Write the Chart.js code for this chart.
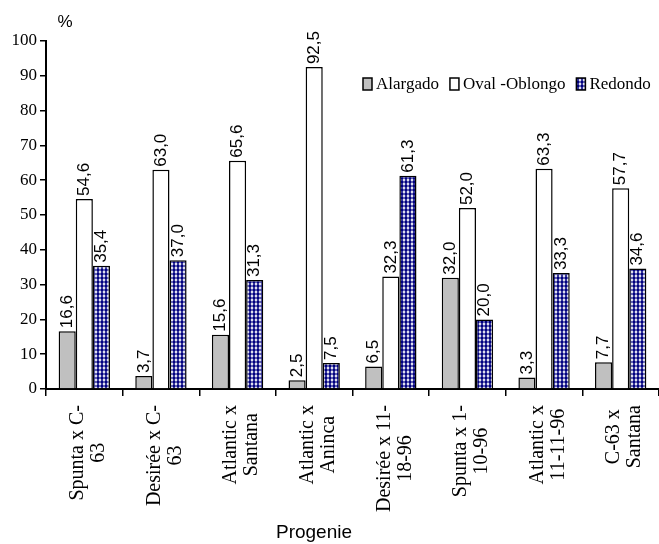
<!DOCTYPE html>
<html>
<head>
<meta charset="utf-8">
<script src="https://cdn.jsdelivr.net/npm/chart.js@4.4.1/dist/chart.umd.min.js"></script>
<style>
  html, body { margin: 0; padding: 0; background: #fff; }
</style>
</head>
<body>
<canvas id="chart" width="659" height="544"></canvas>
<script>
const categories = [
  ['Spunta x C-', '63'],
  ['Desirée x C-', '63'],
  ['Atlantic x', 'Santana'],
  ['Atlantic x', 'Aninca'],
  ['Desirée x 11-', '18-96'],
  ['Spunta x 1-', '10-96'],
  ['Atlantic x', '11-11-96'],
  ['C-63 x', 'Santana']
];
const alargado = [16.6, 3.7, 15.6, 2.5, 6.5, 32.0, 3.3, 7.7];
const ovalOblongo = [54.6, 63.0, 65.6, 92.5, 32.3, 52.0, 63.3, 57.7];
const redondo = [35.4, 37.0, 31.3, 7.5, 61.3, 20.0, 33.3, 34.6];
const seriesNames = ['Alargado', 'Oval -Oblongo', 'Redondo'];
const yTicks = [0, 10, 20, 30, 40, 50, 60, 70, 80, 90, 100];
const unitLabel = '%';
const axisTitle = 'Progenie';

// navy dotted fill for "Redondo"
function dotPattern() {
  const c = document.createElement('canvas');
  c.width = 4; c.height = 4;
  const g = c.getContext('2d');
  g.fillStyle = '#fff';
  g.fillRect(0, 0, 4, 4);
  g.fillStyle = '#000080';
  g.beginPath();
  g.arc(2, 2, 1.8, 0, Math.PI * 2);
  g.fill();
  g.fillRect(1.5, 0, 1, 4);
  return document.getElementById('chart').getContext('2d').createPattern(c, 'repeat');
}

const serif = '"Liberation Serif", "Times New Roman", serif';
const sans = '"Liberation Sans", Arial, sans-serif';

const extras = {
  id: 'extras',
  afterDatasetsDraw(chart) {
    const ctx = chart.ctx;
    // value labels, rotated
    ctx.save();
    ctx.fillStyle = '#000';
    ctx.font = '17px ' + sans;
    ctx.textAlign = 'left';
    ctx.textBaseline = 'middle';
    chart.data.datasets.forEach((ds, i) => {
      chart.getDatasetMeta(i).data.forEach((bar, j) => {
        ctx.save();
        ctx.translate(bar.x, bar.y - 3);
        ctx.rotate(-Math.PI / 2);
        ctx.fillText(ds.data[j].toFixed(1).replace('.', ','), 0, 0);
        ctx.restore();
      });
    });
    ctx.restore();
  },
  afterDraw(chart) {
    const ctx = chart.ctx;
    const area = chart.chartArea;
    const x = chart.scales.x;
    ctx.save();
    ctx.fillStyle = '#000';

    // category labels, two centred lines rotated
    ctx.font = '20px ' + serif;
    ctx.textAlign = 'center';
    ctx.textBaseline = 'middle';
    const lh = 21;
    categories.forEach((lines, i) => {
      const w = Math.max(...lines.map(l => ctx.measureText(l).width));
      const cx = x.getPixelForValue(i) + 4;
      ctx.save();
      ctx.translate(cx, area.bottom + 16 + w / 2);
      ctx.rotate(-Math.PI / 2);
      lines.forEach((l, k) => ctx.fillText(l, 0, (k - (lines.length - 1) / 2) * lh));
      ctx.restore();
    });

    // axis title and unit
    ctx.font = '19px ' + sans;
    ctx.fillText(axisTitle, 314, 533);
    ctx.font = '17px ' + sans;
    ctx.fillText(unitLabel, area.left + 19, 22);

    // legend
    let lx = 363;
    const ly = 84;
    ctx.textAlign = 'left';
    ctx.font = '17px ' + serif;
    chart.data.datasets.forEach((ds, i) => {
      ctx.fillStyle = ds.backgroundColor;
      ctx.fillRect(lx, ly - 6, 9, 12);
      ctx.strokeStyle = '#000';
      ctx.lineWidth = 1.5;
      ctx.strokeRect(lx, ly - 6, 9, 12);
      ctx.fillStyle = '#000';
      ctx.fillText(seriesNames[i], lx + 13, ly + 1);
      lx += 13 + ctx.measureText(seriesNames[i]).width + 11;
    });
    ctx.restore();
  }
};

const datasets = [
  { label: seriesNames[0], data: alargado, backgroundColor: '#c0c0c0' },
  { label: seriesNames[1], data: ovalOblongo, backgroundColor: '#ffffff' },
  { label: seriesNames[2], data: redondo, backgroundColor: dotPattern() }
].map(d => Object.assign(d, {
  borderColor: '#000',
  borderWidth: 1.5,
  borderSkipped: 'bottom',
  categoryPercentage: 0.67,
  barPercentage: 1.0
}));

new Chart(document.getElementById('chart'), {
  type: 'bar',
  data: { labels: categories.map(c => c.join(' ')), datasets },
  options: {
    responsive: false,
    animation: false,
    layout: { padding: { top: 41, right: -5, left: 0, bottom: 0 } },
    plugins: { legend: { display: false }, tooltip: { enabled: false } },
    scales: {
      x: {
        ticks: { display: false },
        grid: { drawOnChartArea: false, drawTicks: true, tickLength: 7, color: '#000', lineWidth: 1.5 },
        border: { color: '#000', width: 2 },
        afterFit: s => { s.height = 155; }
      },
      y: {
        min: 0,
        max: 100,
        afterBuildTicks: s => { s.ticks = yTicks.map(v => ({ value: v })); },
        ticks: { color: '#000', padding: 3, font: { family: serif, size: 17 } },
        grid: { drawOnChartArea: false, drawTicks: true, tickLength: 6, color: '#000', lineWidth: 1.5 },
        border: { color: '#000', width: 2 },
        afterFit: s => { s.width = 46; }
      }
    }
  },
  plugins: [extras]
});
</script>
</body>
</html>
